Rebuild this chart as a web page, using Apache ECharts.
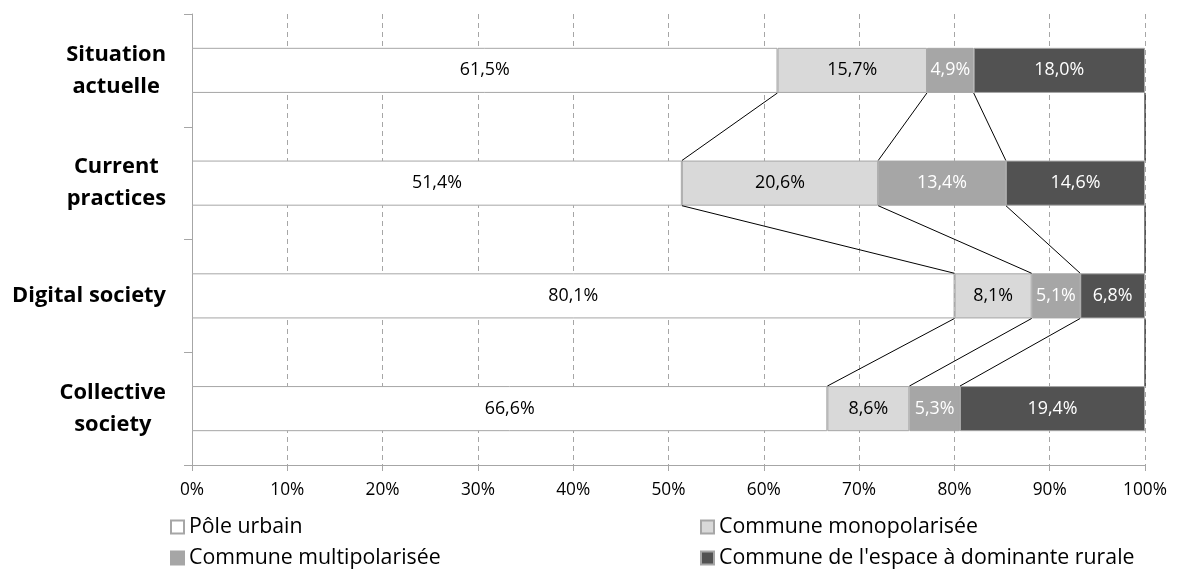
<!DOCTYPE html>
<html>
<head>
<meta charset="utf-8">
<script src="https://cdn.jsdelivr.net/npm/echarts@6/dist/echarts.min.js"></script>
<style>
html,body{margin:0;padding:0;background:#fff;}
#chart{width:1178px;height:572px;}
</style>
</head>
<body>
<div id="chart"></div>
<script>
// ---- data ----
const categories = ['Situation\nactuelle', 'Current\npractices', 'Digital society', 'Collective\nsociety'];
const seriesNames = ['Pôle urbain', 'Commune monopolarisée', 'Commune multipolarisée', "Commune de l'espace à dominante rurale"];
const poleUrbain = [61.5, 51.4, 80.1, 66.6];
const monopolarisee = [15.7, 20.6, 8.1, 8.6];
const multipolarisee = [4.9, 13.4, 5.1, 5.3];
const rurale = [18.0, 14.6, 6.8, 19.4];
const xTickValues = [0, 10, 20, 30, 40, 50, 60, 70, 80, 90, 100];

// ---- styling ----
const FONT = '"Open Sans", "Noto Sans", sans-serif';
const colors = ['#ffffff', '#d9d9d9', '#a6a6a6', '#525252'];
const labelColors = ['#000000', '#000000', '#ffffff', '#ffffff'];

const cv = document.createElement('canvas').getContext('2d');
function fit(text, weight, target) {
  cv.font = weight + ' 100px ' + FONT;
  return 100 * target / cv.measureText(text).width;
}
const catSize = fit('Digital society', 'bold', 154);
const dataSize = fit('61,5%', 'normal', 50);
const axisSize = fit('10%', 'normal', 34);
const legendSize = fit('Commune monopolarisée', 'normal', 259);

const raw = [poleUrbain, monopolarisee, multipolarisee, rurale];
const totals = categories.map((c, i) => raw.reduce((s, arr) => s + arr[i], 0));
// normalised (100% stacked) values
const norm = raw.map(arr => arr.map((v, i) => v / totals[i] * 100));
// cumulative right edge of each segment
const cum = norm.map((arr, k) => arr.map((v, i) => norm.slice(0, k + 1).reduce((s, a) => s + a[i], 0)));

const fmt = v => v.toFixed(1).replace('.', ',') + '%';

const barSeries = raw.map((arr, k) => ({
  name: seriesNames[k],
  type: 'bar',
  stack: 'total',
  barCategoryGap: '60%',
  itemStyle: { color: colors[k], borderColor: '#a6a6a6', borderWidth: 1 },
  label: {
    show: true,
    position: 'inside',
    color: labelColors[k],
    fontFamily: FONT,
    fontSize: dataSize,
    formatter: p => fmt(arr[p.dataIndex])
  },
  emphasis: { disabled: true },
  data: norm[k].map(v => v)
}));

const seriesLines = {
  type: 'custom',
  silent: true,
  z: 5,
  encode: { x: 0, y: 1 },
  data: categories.slice(0, -1).map((c, i) => [0, i]),
  renderItem: function (params, api) {
    const i = api.value(1);
    const band = api.size([0, 1])[1];
    const h = band * 0.4 / 2;
    const children = [];
    for (let k = 0; k < cum.length; k++) {
      const a = api.coord([cum[k][i], i]);
      const b = api.coord([cum[k][i + 1], i + 1]);
      children.push({
        type: 'line',
        shape: { x1: a[0], y1: a[1] + h, x2: b[0], y2: b[1] - h },
        style: { stroke: '#000', lineWidth: 1 }
      });
    }
    return { type: 'group', children: children };
  }
};

// category label rich styles (lines centred within block, block right-aligned)
const rich = { c: { align: 'center', fontWeight: 'bold', fontSize: catSize, fontFamily: FONT, color: '#000', lineHeight: 32 } };

// legend layout: two columns, two rows
const legendPos = [[170, 515], [700, 515], [170, 546], [700, 546]];
const legends = seriesNames.map((n, k) => ({
  data: [n],
  orient: 'horizontal', left: legendPos[k][0], top: legendPos[k][1],
  icon: 'rect', itemWidth: 13, itemHeight: 13, itemGap: 0, padding: 0,
  textStyle: { fontFamily: FONT, fontSize: legendSize, color: '#000', lineHeight: 24 },
  selectedMode: false
}));

const option = {
  animation: false,
  backgroundColor: '#ffffff',
  grid: { left: 192, right: 33, top: 14, bottom: 107, containLabel: false, outerBoundsMode: 'none' },
  legend: legends,
  xAxis: {
    type: 'value', min: 0, max: 100, interval: 10,
    axisLine: { show: true, lineStyle: { color: '#a6a6a6', width: 1 } },
    axisTick: { show: true, length: 6, lineStyle: { color: '#a6a6a6' } },
    axisLabel: {
      margin: 17, color: '#000', fontFamily: FONT, fontSize: axisSize,
      formatter: v => (xTickValues.indexOf(v) >= 0 ? v + '%' : '')
    },
    splitLine: { show: true, lineStyle: { color: '#a6a6a6', type: [5, 4], width: 1 } }
  },
  yAxis: {
    type: 'category', inverse: true, data: categories,
    axisLine: { show: true, lineStyle: { color: '#a6a6a6', width: 1 } },
    axisTick: { show: true, length: 8, lineStyle: { color: '#a6a6a6' } },
    axisLabel: {
      margin: 26, align: 'right',
      formatter: v => v.split('\n').map(l => '{c|' + l + '}').join('\n'),
      rich: rich
    },
    splitLine: { show: false }
  },
  series: barSeries.concat([seriesLines])
};

const chart = echarts.init(document.getElementById('chart'), null, { renderer: 'canvas' });
chart.setOption(option);
</script>
</body>
</html>
